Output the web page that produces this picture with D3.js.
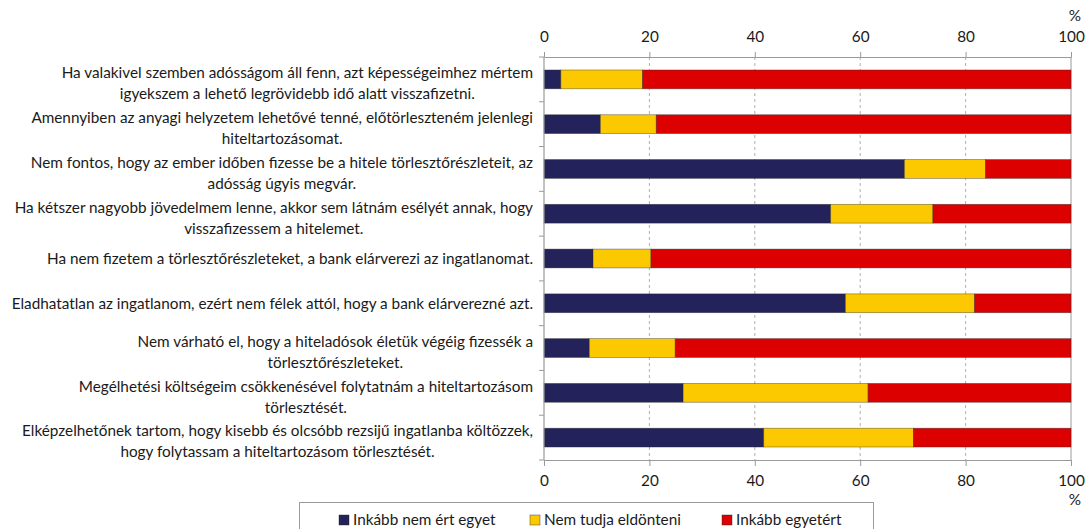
<!DOCTYPE html>
<html>
<head>
<meta charset="utf-8">
<script src="https://cdn.jsdelivr.net/npm/d3@7"></script>
<style>
  html, body { margin: 0; padding: 0; background: #fff; }
  svg { display: block; }
  text { font-family: Lato, "Open Sans", sans-serif; fill: #1a1a1a; }
</style>
</head>
<body>
<svg id="chart" width="1086" height="529"></svg>
<script>
// Statements (each row may wrap onto two lines)
const statements = [
  ["Ha valakivel szemben adósságom áll fenn, azt képességeimhez mértem", "igyekszem a lehető legrövidebb idő alatt visszafizetni."],
  ["Amennyiben az anyagi helyzetem lehetővé tenné, előtörleszteném jelenlegi", "hiteltartozásomat."],
  ["Nem fontos, hogy az ember időben fizesse be a hitele törlesztőrészleteit, az", "adósság úgyis megvár."],
  ["Ha kétszer nagyobb jövedelmem lenne, akkor sem látnám esélyét annak, hogy", "visszafizessem a hitelemet."],
  ["Ha nem fizetem a törlesztőrészleteket, a bank elárverezi az ingatlanomat."],
  ["Eladhatatlan az ingatlanom, ezért nem félek attól, hogy a bank elárverezné azt."],
  ["Nem várható el, hogy a hiteladósok életük végéig fizessék a", "törlesztőrészleteket."],
  ["Megélhetési költségeim csökkenésével folytatnám a hiteltartozásom", "törlesztését."],
  ["Elképzelhetőnek tartom, hogy kisebb és olcsóbb rezsijű ingatlanba költözzek,", "hogy folytassam a hiteltartozásom törlesztését."]
];

// Shares of answers (%)
const disagree  = [3.2, 10.7, 68.4, 54.4, 9.3, 57.2, 8.6, 26.4, 41.7];
const undecided = [15.5, 10.6, 15.4, 19.4, 11.0, 24.5, 16.3, 35.1, 28.4];
const agree     = [81.3, 78.7, 16.2, 26.2, 79.7, 18.3, 75.1, 38.5, 29.9];

const seriesNames = ["Inkább nem ért egyet", "Nem tudja eldönteni", "Inkább egyetért"];
const seriesColors = ["#24225a", "#fcc900", "#dc0000"];
const tickValues = [0, 20, 40, 60, 80, 100];

const rows = statements.map((s, i) => ({
  key: i,
  lines: s,
  "Inkább nem ért egyet": disagree[i],
  "Nem tudja eldönteni": undecided[i],
  "Inkább egyetért": agree[i]
}));

const svg = d3.select("#chart");
const plot = { left: 544, right: 1071, top: 57, bottom: 460 };
const fontSize = "15.3px";

const x = d3.scaleLinear().domain([0, 100]).range([plot.left, plot.right]);
const y = d3.scaleBand().domain(rows.map(d => d.key))
  .range([plot.top, plot.bottom]).paddingInner(0.58).paddingOuter(0.29);

// Dashed vertical gridlines
svg.append("g").selectAll("line")
  .data(tickValues.filter(v => v > 0 && v < 100))
  .join("line")
  .attr("x1", d => x(d)).attr("x2", d => x(d))
  .attr("y1", plot.top).attr("y2", plot.bottom)
  .attr("stroke", "#9a9a9a").attr("stroke-width", 0.8)
  .attr("stroke-dasharray", "3,3");

// Right border of the plot
svg.append("line")
  .attr("x1", x(100)).attr("x2", x(100))
  .attr("y1", plot.top).attr("y2", plot.bottom)
  .attr("stroke", "#9a9a9a").attr("stroke-width", 1);

// Stacked bars
const stack = d3.stack().keys(seriesNames);
const stacked = stack(rows);

svg.append("g").selectAll("g")
  .data(stacked)
  .join("g")
  .attr("fill", (d, i) => seriesColors[i])
  .selectAll("rect")
  .data(d => d)
  .join("rect")
  .attr("x", d => x(d[0]))
  .attr("width", d => x(d[1]) - x(d[0]))
  .attr("y", d => y(d.data.key))
  .attr("height", y.bandwidth())
  .attr("stroke", "rgba(40,40,40,0.55)")
  .attr("stroke-width", 0.7);

// Top and bottom axes
const axisStyle = g => {
  g.select(".domain").attr("stroke", "#9a9a9a").attr("stroke-width", 1.2);
  g.selectAll(".tick line").attr("stroke", "#9a9a9a").attr("stroke-width", 1);
  g.selectAll(".tick text")
    .style("font-family", "Lato, 'Open Sans', sans-serif")
    .style("font-size", fontSize).attr("fill", "#1a1a1a");
};

svg.append("g")
  .attr("transform", `translate(0,${plot.top})`)
  .call(d3.axisTop(x).tickValues(tickValues).tickSize(5).tickSizeOuter(0).tickPadding(10))
  .call(axisStyle);

svg.append("g")
  .attr("transform", `translate(0,${plot.bottom})`)
  .call(d3.axisBottom(x).tickValues(tickValues).tickSize(6).tickSizeOuter(0).tickPadding(9))
  .call(axisStyle);

// Unit labels
svg.append("text").attr("x", x(100) + 4).attr("y", 21)
  .attr("text-anchor", "middle").style("font-size", fontSize).text("%");
svg.append("text").attr("x", x(100) + 4).attr("y", 505)
  .attr("text-anchor", "middle").style("font-size", fontSize).text("%");

// Left category axis with ticks between categories
svg.append("line")
  .attr("x1", plot.left).attr("x2", plot.left)
  .attr("y1", plot.top).attr("y2", plot.bottom)
  .attr("stroke", "#9a9a9a").attr("stroke-width", 1.2);

const step = (plot.bottom - plot.top) / rows.length;
svg.append("g").selectAll("line")
  .data(d3.range(rows.length + 1))
  .join("line")
  .attr("x1", plot.left - 5).attr("x2", plot.left)
  .attr("y1", i => plot.top + i * step).attr("y2", i => plot.top + i * step)
  .attr("stroke", "#9a9a9a").attr("stroke-width", 1);

// Category labels: lines centred on each other, block right-aligned
const labelRight = 533;
const lineGap = 21;
const labels = svg.append("g").style("font-size", fontSize);

rows.forEach(r => {
  const cy = y(r.key) + y.bandwidth() / 2;
  const n = r.lines.length;
  const g = labels.append("g");
  const texts = r.lines.map((line, j) =>
    g.append("text")
      .attr("y", cy + (n > 1 ? 4 : 0) + (j - (n - 1) / 2) * lineGap)
      .attr("dy", "0.35em")
      .attr("text-anchor", "middle")
      .text(line));
  const maxW = d3.max(texts, t => t.node().getComputedTextLength());
  texts.forEach(t => t.attr("x", labelRight - maxW / 2));
});

// Legend
const legend = svg.append("g");
legend.append("rect")
  .attr("x", 299.5).attr("y", 502.5).attr("width", 574).attr("height", 36)
  .attr("fill", "#fff").attr("stroke", "#9a9a9a").attr("stroke-width", 1);

const legendX = [339, 530, 722];
seriesNames.forEach((name, i) => {
  const g = legend.append("g").attr("transform", `translate(${legendX[i]},520)`);
  g.append("rect").attr("x", 0).attr("y", -5).attr("width", 10).attr("height", 10)
    .attr("fill", seriesColors[i]).attr("stroke", "rgba(40,40,40,0.6)").attr("stroke-width", 0.7);
  g.append("text").attr("x", 14).attr("dy", "0.35em")
    .style("font-size", fontSize).text(name);
});
</script>
</body>
</html>
